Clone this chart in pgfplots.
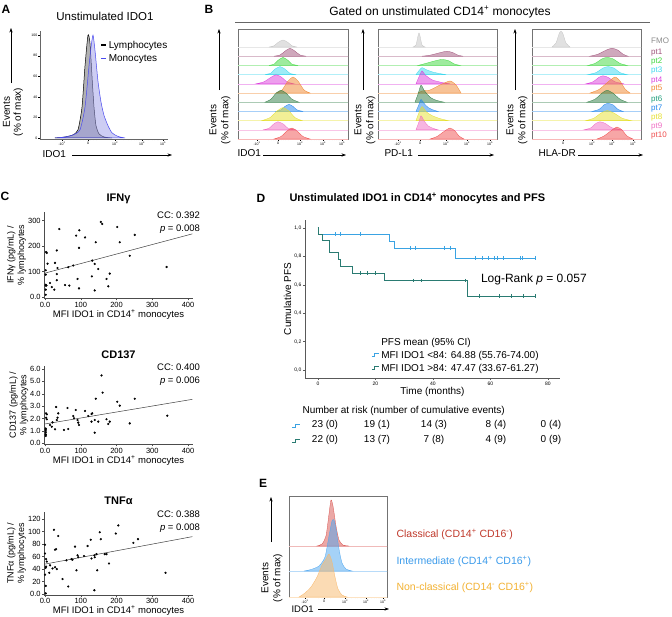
\documentclass[border=0pt]{standalone}
\usepackage{fontspec}
\setmainfont{Liberation Sans}
\usepackage{pgfplots}
\pgfplotsset{compat=1.18}
\usetikzlibrary{arrows.meta}

\definecolor{fmo}{HTML}{C4C4C4}
\definecolor{p1}{HTML}{A0527A}
\definecolor{p2}{HTML}{3FD83F}
\definecolor{p3}{HTML}{3FD8EE}
\definecolor{p4}{HTML}{DC3FDC}
\definecolor{p5}{HTML}{F0862E}
\definecolor{p6}{HTML}{2F7D45}
\definecolor{p6t}{HTML}{1E9E7A}
\definecolor{p7}{HTML}{2287EE}
\definecolor{p8}{HTML}{E6E02E}
\definecolor{p9}{HTML}{F06EC4}
\definecolor{p10}{HTML}{F04E4E}
\definecolor{monoLine}{HTML}{4A4AF0}
\definecolor{monoFill}{HTML}{9C9CE8}
\definecolor{kmblue}{HTML}{3AA3E3}
\definecolor{kmteal}{HTML}{2A7B72}
\definecolor{eRed}{HTML}{D9534F}
\definecolor{eBlue}{HTML}{4DA6F0}
\definecolor{eOra}{HTML}{F9B86A}
\definecolor{tRed}{HTML}{C0392B}
\definecolor{tBlue}{HTML}{3B9BEB}
\definecolor{tOra}{HTML}{F3B233}

\newcommand{\fs}[2]{\fontsize{#1}{#2}\selectfont}

% one histogram of a ridge: colour, baseline, "x h" rows
\newcommand{\ridge}[3]{%
  \addplot[#1!40, line width=0.4pt] coordinates {(-10,#2) (200,#2)};
  \addplot[draw=#1, fill=#1, fill opacity=0.5, line width=0.3pt, smooth, tension=0.4]
    table[row sep=\\, y expr=\thisrowno{1}+#2] {x h\\ #3} -- cycle;
}

\tikzset{arr/.style={-{Stealth[length=4.5pt, width=3.2pt]}, line width=0.5pt}}

\pgfplotsset{
  flowbox/.style={scale only axis, anchor=south west,
    axis line style={black!55, line width=0.5pt},
    ymin=0, ytick=\empty, xtick pos=bottom, tick align=outside,
    major tick length=1.6pt, minor tick length=1pt,
    every tick/.style={black, line width=0.3pt},
    xticklabel style={font=\fs{3.5}{4}, inner sep=1pt}},
  cscat/.style={scale only axis, anchor=south west,
    axis x line*=bottom, axis y line*=left,
    axis line style={black!70, line width=0.5pt},
    tick align=outside, major tick length=2pt,
    every tick/.style={black!70},
    tick label style={font=\fs{7.5}{9}, inner sep=1.5pt},
    xmin=-2, xmax=413, xtick={0,100,200,300,400},
    xticklabels={0.0,100,200,300,400},
    width=148.4pt, clip=false,
    title style={font=\bfseries\fs{11}{13}, yshift=-2pt},
    xlabel={MFI IDO1 in CD14\textsuperscript{+} monocytes},
    xlabel style={font=\fs{9.5}{11}, yshift=3pt},
    ylabel style={font=\fs{9}{10.5}, align=center, yshift=-3pt}},
}

\begin{document}
\begin{tikzpicture}
\path[use as bounding box, fill=white] (0,0) rectangle (672pt,-616pt);

% ---------------- A ----------------
\node[font=\bfseries\fs{12}{14}] at (6pt,-9pt) {A};
\node[font=\fs{11.5}{13}] at (105pt,-16pt) {Unstimulated IDO1};
\begin{axis}[scale only axis, anchor=south west, at={(40pt,-139pt)},
  width=128pt, height=108pt, xmin=0, xmax=128, ymin=-1, ymax=104,
  axis x line*=bottom, axis y line*=left,
  axis line style={black!60, line width=0.5pt},
  tick align=outside, major tick length=1.6pt, minor tick length=1pt,
  every tick/.style={black, line width=0.3pt},
  ytick={0,20,40,60,80,100}, yticklabels={0,20,40,60,80,100},
  xtick={22,48,75,102,123},
  xticklabels={-10\textsuperscript{3},0,10\textsuperscript{3},10\textsuperscript{4},10\textsuperscript{5}},
  minor xtick={40,43,46,50,53,56,83.1,87.9,91.3,93.9,96,97.8,99.4,100.8,108.3,112,114.6,116.7,118.3,119.7,121,122},
  tick label style={font=\fs{3.5}{4}, inner sep=1pt},
  legend image code/.code={\draw[#1] (0pt,0pt) -- (5pt,0pt);},
  legend style={draw=none, fill=none, font=\fs{10}{12}, inner sep=0pt,
    at={(rel axis cs:0.47,0.93)}, anchor=north west, row sep=1pt},
  legend cell align=left]
\addplot[draw=black, fill=black!55, fill opacity=0.55, line width=0.5pt, smooth, tension=0.4, forget plot]
  coordinates {(15,0)(25,1)(33,3)(38,8)(42,30)(45,70)(48,100)(50,92)(52,60)(54,30)(56,12)(59,4)(64,1)(72,0)} \closedcycle;
\addplot[draw=monoLine, fill=monoFill, fill opacity=0.5, line width=0.5pt, smooth, tension=0.4, forget plot]
  coordinates {(15,0)(25,1)(33,3)(40,8)(45,30)(49,70)(51,88)(53,100)(55,85)(58,55)(61,35)(64,22)(68,12)(72,5)(78,1.5)(85,0)} \closedcycle;
\addlegendimage{black, line width=1.4pt}
\addlegendentry{Lymphocytes}
\addlegendimage{monoLine, line width=1.4pt}
\addlegendentry{Monocytes}
\end{axis}
\draw[arr] (11pt,-83pt) -- (11pt,-28pt);
\node[rotate=90, align=center, font=\fs{10}{11}] at (13pt,-112pt) {Events\\(\% of max)};
\node[font=\fs{10}{12}, anchor=west] at (39pt,-154pt) {IDO1};
\draw[arr] (72pt,-155pt) -- (172pt,-155pt);

% ---------------- B ----------------
\node[font=\bfseries\fs{12}{14}] at (209pt,-9pt) {B};
\node[font=\fs{12}{14}] at (440pt,-12pt) {Gated on unstimulated CD14\textsuperscript{+} monocytes};
\draw[black!60, line width=0.5pt] (235pt,-22pt) -- (650pt,-22pt);

% box 1 : IDO1
\begin{axis}[flowbox, at={(238pt,-139pt)}, width=110pt, height=110pt,
  xmin=0, xmax=110, ymax=110,
  xtick={19,40,62,85,104},
  xticklabels={-10\textsuperscript{3},0,10\textsuperscript{3},10\textsuperscript{4},10\textsuperscript{5}},
  minor xtick={30,33,35,37,38.5,41.5,43,45,47,50,69,73,76,78,80,81.4,82.8,84,90.7,94,96.4,98.3,99.8,101,102.2,103.1}]
\ridge{fmo}{92}{31 0\\ 36 1.2\\ 40 4.5\\ 45 7\\ 50 4.5\\ 54 1.2\\ 59 0\\}
\ridge{p1}{82.8}{36 0\\ 42 1.2\\ 47 5\\ 52 8\\ 57 5\\ 62 1.2\\ 68 0\\}
\ridge{p2}{73.6}{31 0\\ 36 1.2\\ 40 5\\ 45 8\\ 50 5\\ 54 1.2\\ 60 0\\}
\ridge{p3}{64.4}{27 0\\ 33 1.5\\ 37 5.5\\ 42 8\\ 47 5.5\\ 52 1.2\\ 58 0\\}
\ridge{p4}{55.2}{18 0\\ 26 2\\ 33 6.5\\ 38 9\\ 43 7\\ 49 2\\ 56 0\\}
\ridge{p5}{46}{38 0\\ 44 3\\ 50 12\\ 55 16\\ 60 12\\ 66 3\\ 72 0\\}
\ridge{p6}{36.8}{27 0\\ 33 3\\ 38 9\\ 43 12\\ 48 9\\ 54 3\\ 61 0\\}
\ridge{p7}{27.6}{38 0\\ 43 1.5\\ 47 5\\ 51 7\\ 55 5\\ 59 1.5\\ 65 0\\}
\ridge{p8}{18.4}{24 0\\ 32 3\\ 39 9.5\\ 45 13\\ 51 9.5\\ 57 3\\ 64 0\\}
\ridge{p9}{9.2}{25 0\\ 31 1.5\\ 36 6\\ 40 8\\ 45 6\\ 50 1.5\\ 58 0\\}
\ridge{p10}{0}{36 0\\ 43 2.5\\ 49 8\\ 54 11\\ 59 8\\ 65 2.5\\ 72 0\\}
\end{axis}

% box 2 : PD-L1
\begin{axis}[flowbox, at={(378pt,-139pt)}, width=119pt, height=110pt,
  xmin=0, xmax=119, ymax=110,
  xtick={20,42,68,89,112},
  xticklabels={-10\textsuperscript{3},0,10\textsuperscript{3},10\textsuperscript{4},10\textsuperscript{5}},
  minor xtick={34,37,39,40.5,43.5,45,47,50,74.3,78,80.6,82.7,84.3,85.7,86.9,88,96,100,102.8,105.1,106.9,108.4,109.8,111}]
\ridge{fmo}{92}{35 0\\ 38 2\\ 40 11\\ 41 14\\ 42 11\\ 44 2\\ 47 0\\}
\ridge{p1}{82.8}{44 0\\ 52 1\\ 62 3.5\\ 69 5\\ 75 3.5\\ 80 1\\ 85 0\\}
\ridge{p2}{73.6}{40 0\\ 46 1.5\\ 55 4\\ 64 6\\ 71 4.5\\ 76 1.5\\ 82 0\\}
\ridge{p3}{64.4}{38 0\\ 41 4\\ 44 7\\ 48 5\\ 55 2.5\\ 62 1\\ 68 0\\}
\ridge{p4}{55.2}{38 0\\ 41 7\\ 44 13\\ 47 9\\ 54 4\\ 63 1.5\\ 72 0\\}
\ridge{p5}{46}{40 0\\ 44 2\\ 52 3\\ 62 8\\ 72 12\\ 78 8\\ 83 0\\}
\ridge{p6}{36.8}{37 0\\ 40 8\\ 43 17\\ 46 12\\ 52 5\\ 58 2\\ 66 0\\}
\ridge{p7}{27.6}{38 0\\ 41 7\\ 43 12\\ 46 8\\ 50 4\\ 55 1.5\\ 60 0\\}
\ridge{p8}{18.4}{38 0\\ 41 8\\ 44 14\\ 48 9\\ 54 5\\ 62 2\\ 70 0\\}
\ridge{p9}{9.2}{38 0\\ 41 8\\ 43 14\\ 46 9\\ 50 4\\ 55 1.5\\ 60 0\\}
\ridge{p10}{0}{52 0\\ 59 2.5\\ 66 7.5\\ 72 11\\ 77 8\\ 81 3\\ 86 0\\}
\end{axis}

% box 3 : HLA-DR
\begin{axis}[flowbox, at={(532pt,-139pt)}, width=109pt, height=110pt,
  xmin=0, xmax=109, ymax=110,
  xtick={31,60,80,101},
  xticklabels={0,10\textsuperscript{3},10\textsuperscript{4},10\textsuperscript{5}},
  minor xtick={24,27,29,33,35,38,66,69.5,72,74,75.6,76.9,78.1,79.1,86.3,90,92.6,94.7,96.4,97.7,98.9,100}]
\ridge{fmo}{92}{20 0\\ 24 4\\ 27 13\\ 29 16\\ 31 13\\ 34 4\\ 38 0\\}
\ridge{p1}{82.8}{58 0\\ 66 2\\ 74 6\\ 80 8\\ 86 6\\ 91 2\\ 96 0\\}
\ridge{p2}{73.6}{56 0\\ 63 2\\ 70 6.5\\ 75 8\\ 81 6.5\\ 88 2\\ 95 0\\}
\ridge{p3}{64.4}{56 0\\ 64 2\\ 71 6.5\\ 76 8\\ 82 6.5\\ 88 2\\ 95 0\\}
\ridge{p4}{55.2}{54 0\\ 61 2\\ 67 6.5\\ 71 8\\ 76 6.5\\ 83 2\\ 92 0\\}
\ridge{p5}{46}{58 0\\ 67 3.5\\ 76 11\\ 83 16\\ 88 12\\ 93 4\\ 98 0\\}
\ridge{p6}{36.8}{55 0\\ 63 3\\ 70 9\\ 75 12\\ 81 9\\ 88 3\\ 95 0\\}
\ridge{p7}{27.6}{60 0\\ 67 2\\ 72 6.5\\ 76 8\\ 81 6.5\\ 86 2\\ 91 0\\}
\ridge{p8}{18.4}{54 0\\ 62 2.5\\ 69 7.5\\ 75 10\\ 82 7.5\\ 90 2.5\\ 99 0\\}
\ridge{p9}{9.2}{52 0\\ 59 2\\ 64 6.5\\ 68 8\\ 73 6.5\\ 80 2\\ 90 0\\}
\ridge{p10}{0}{65 0\\ 72 3\\ 80 9\\ 85 12\\ 90 9\\ 95 3\\ 101 0\\}
\end{axis}

\foreach \ax/\tx in {219/220, 363/365, 515/517}{
  \draw[arr] (\ax pt,-90pt) -- (\ax pt,-29pt);
  \node[rotate=90, align=center, font=\fs{10}{12}] at (\tx pt,-120pt) {Events\\(\% of max)};
}
\node[font=\fs{10}{12}, anchor=west] at (234pt,-153pt) {IDO1};
\draw[arr] (263pt,-155pt) -- (346pt,-155pt);
\node[font=\fs{10}{12}, anchor=west] at (381pt,-153pt) {PD-L1};
\draw[arr] (418pt,-155pt) -- (494pt,-155pt);
\node[font=\fs{10}{12}, anchor=west] at (535pt,-153pt) {HLA-DR};
\draw[arr] (578pt,-155pt) -- (643pt,-155pt);
\foreach \lab/\col/\yy in {FMO/black!45/41, pt1/p1/53, pt2/p2/62, pt3/p3/71, pt4/p4/81, pt5/p5/89,
  pt6/p6t/100, pt7/p7/109, pt8/p8/118, pt9/p9/127, pt10/p10/136}{
  \node[anchor=west, text=\col, font=\fs{8}{9}, inner sep=0pt] at (651pt,-\yy pt) {\lab};
}

% ---------------- C ----------------
\node[font=\bfseries\fs{12}{14}] at (5pt,-196pt) {C};
\begin{axis}[cscat, at={(44.3pt,-298.3pt)}, height=86.6pt,
  ymin=-5, ymax=335, ytick={0,100,200,300}, yticklabels={0.0,100,200,300},
  title={IFNγ}, ylabel={IFNγ (pg/mL) /\\\% lymphocytes}]
\addplot[black!75, line width=0.5pt] coordinates {(0,94) (412,248)};
\addplot[only marks, mark=*, mark size=0.9pt, black] coordinates {
(40,267)(87,241)(96,262)(112,234)(95,193)(142,215)(156,295)(160,287)(202,275)(209,215)
(251,244)(237,162)(340,118)(33,183)(3,177)(5,173)(7,131)(28,134)(35,114)(2,105)
(2,88)(33,90)(65,117)(79,124)(132,143)(139,130)(149,110)(131,81)(181,92)(172,71)
(177,42)(91,71)(95,34)(139,26)(33,66)(56,47)(68,45)(14,55)(19,39)(26,29)
(2,48)(2,45)(2,29)(2,9)(4,45)};
\node[anchor=east, font=\fs{9.5}{11}, inner sep=0pt] at (rel axis cs:1.05,0.962) {CC: 0.392};
\node[anchor=east, font=\fs{9.5}{11}, inner sep=0pt] at (rel axis cs:1.05,0.80) {\textit{p} = 0.008};
\end{axis}

\begin{axis}[cscat, at={(44.3pt,-444.3pt)}, height=78.3pt,
  ymin=-0.08, ymax=6.24, ytick={0,1,2,3,4,5,6}, yticklabels={0.0,1.0,2.0,3.0,4.0,5.0,6.0},
  title={CD137}, ylabel={CD137 (pg/mL) /\\\% lymphocytes}]
\addplot[black!75, line width=0.5pt] coordinates {(0,1.56) (412,3.55)};
\addplot[only marks, mark=*, mark size=0.9pt, black] coordinates {
(158,5.48)(161,4.09)(142,3.60)(251,3.60)(202,3.36)(209,3.04)(31,2.93)(63,2.85)(86,2.69)(37,2.42)
(112,2.61)(132,2.42)(121,2.20)(3,2.42)(5,2.34)(3,2.07)(5,1.94)(2,1.20)(2,1.10)(2,1.00)
(2,0.85)(2,0.70)(2,0.60)(21,1.69)(14,1.48)(19,1.34)(28,1.13)(33,1.88)(35,2.07)(65,1.16)
(53,1.08)(79,2.20)(81,2.02)(91,1.88)(93,1.67)(95,1.48)(130,1.75)(139,1.88)(149,1.75)(139,0.86)
(172,1.94)(177,1.56)(181,1.75)(237,1.61)(342,2.23)(130,2.37)};
\node[anchor=east, font=\fs{9.5}{11}, inner sep=0pt] at (rel axis cs:1.05,0.987) {CC: 0.400};
\node[anchor=east, font=\fs{9.5}{11}, inner sep=0pt] at (rel axis cs:1.05,0.81) {\textit{p} = 0.006};
\end{axis}

\begin{axis}[cscat, at={(44.3pt,-595pt)}, height=83.3pt,
  ymin=-1.6, ymax=132, ytick={0,20,40,60,80,100,120}, yticklabels={0.0,20,40,60,80,100,120},
  title={TNFα}, ylabel={TNFα (pg/mL) /\\\% lymphocytes}]
\addplot[black!75, line width=0.5pt] coordinates {(0,48) (412,92)};
\addplot[only marks, mark=*, mark size=0.9pt, black] coordinates {
(25,103)(37,93)(205,110)(198,97)(153,99)(156,88)(128,87)(247,82)(260,88)(84,76)
(119,77)(31,72)(28,71)(0,79)(0,65)(3,56)(5,52)(60,54)(74,56)(77,55)
(91,62)(93,59)(109,61)(138,62)(144,64)(139,59)(167,64)(172,64)(130,57)(179,49)
(2,42)(3,44)(14,46)(21,41)(28,43)(33,40)(12,34)(0,31)(88,38)(146,38)
(49,24)(65,12)(2,13)(138,6)(337,34)(2,1)};
\node[anchor=east, font=\fs{9.5}{11}, inner sep=0pt] at (rel axis cs:1.05,0.97) {CC: 0.388};
\node[anchor=east, font=\fs{9.5}{11}, inner sep=0pt] at (rel axis cs:1.05,0.80) {\textit{p} = 0.008};
\end{axis}

% ---------------- D ----------------
\node[font=\bfseries\fs{12}{14}] at (261pt,-198pt) {D};
\node[font=\bfseries\fs{11}{13}, anchor=west] at (286pt,-198pt) {Unstimulated IDO1 in CD14\textsuperscript{+} monocytes and PFS};
\begin{axis}[scale only axis, anchor=south west, at={(305pt,-378pt)},
  width=255pt, height=158pt, xmin=-4.5, xmax=84.2, ymin=-0.056, ymax=1.056,
  axis x line*=bottom, axis y line*=left, clip=false,
  axis line style={black!65, line width=0.7pt},
  tick align=outside, major tick length=2pt, every tick/.style={black!65},
  xtick={0,20,40,60,80}, xticklabels={0,20,40,60,80},
  ytick={0,0.2,0.4,0.6,0.8,1}, yticklabels={{0,0},{0,2},{0,4},{0,6},{0,8},{1,0}},
  tick label style={font=\fs{5}{6}, inner sep=1.5pt},
  xlabel={Time (months)}, ylabel={Cumulative PFS},
  xlabel style={font=\fs{10}{12}, yshift=3pt},
  ylabel style={font=\fs{10}{12}, yshift=-2pt},
  legend image code/.code={\draw[#1] (0pt,-1.5pt) -- (3pt,-1.5pt) -- (3pt,1.5pt) -- (7pt,1.5pt);},
  legend style={draw=none, fill=none, font=\fs{10}{11.5}, inner sep=0pt,
    at={(rel axis cs:0.259,0.265)}, anchor=north west, row sep=0pt},
  legend cell align=left]
\addplot[const plot, kmblue, line width=1pt, forget plot] coordinates
  {(0,1)(0.3,0.957)(25,0.908)(26.8,0.857)(48,0.787)(75.5,0.787)};
\addplot[const plot, kmteal, line width=1pt, forget plot] coordinates
  {(0,1)(0.2,0.955)(1.6,0.909)(3.9,0.826)(7,0.775)(8,0.727)(11.9,0.681)(23,0.629)(52,0.521)(75.5,0.521)};
\addplot[only marks, mark=|, mark size=1.8pt, kmblue, line width=0.6pt, forget plot] coordinates
  {(5.9,0.957)(7.7,0.957)(14.8,0.957)(32,0.857)(34,0.857)(43.8,0.857)(46.1,0.857)
   (54.6,0.787)(57.3,0.787)(59.2,0.787)(61.2,0.787)(62.4,0.787)(64.5,0.787)(70.3,0.787)(71.2,0.787)(75.5,0.787)};
\addplot[only marks, mark=|, mark size=1.8pt, kmteal, line width=0.6pt, forget plot] coordinates
  {(14.7,0.681)(17,0.681)(20,0.681)(33,0.629)(35.9,0.629)(51.2,0.629)
   (56,0.521)(63,0.521)(67.1,0.521)(71.6,0.521)(75.5,0.521)};
\addlegendimage{empty legend}
\addlegendentry{PFS mean (95\% CI)}
\addlegendimage{kmblue, line width=1pt}
\addlegendentry{MFI IDO1 <84: 64.88 (55.76-74.00)}
\addlegendimage{kmteal, line width=1pt}
\addlegendentry{MFI IDO1 >84: 47.47 (33.67-61.27)}
\node[anchor=west, font=\fs{12}{14}] at (axis cs:55.5,0.64) {Log-Rank \textit{p} = 0.057};
\end{axis}
\node[anchor=west, font=\fs{10}{12}] at (299pt,-411pt) {Number at risk (number of cumulative events)};
\draw[kmblue, line width=1pt] (292pt,-427pt) -- (295pt,-427pt) -- (295pt,-424pt) -- (300pt,-424pt);
\draw[kmteal, line width=1pt] (292pt,-442pt) -- (295pt,-442pt) -- (295pt,-439pt) -- (300pt,-439pt);
\foreach \xx/\a/\b in {325/23 (0)/22 (0), 377/19 (1)/13 (7), 434/14 (3)/7 (8), 496/8 (4)/4 (9), 551/0 (4)/0 (9)}{
  \node[font=\fs{10}{12}] at (\xx pt,-425pt) {\a};
  \node[font=\fs{10}{12}] at (\xx pt,-440pt) {\b};
}

% ---------------- E ----------------
\node[font=\bfseries\fs{12}{14}] at (263pt,-483pt) {E};
\begin{axis}[flowbox, at={(289pt,-597pt)}, width=98pt, height=101pt,
  xmin=0, xmax=98, ymax=101,
  xtick={16,35,56,77,94},
  xticklabels={-10\textsuperscript{3},0,10\textsuperscript{3},10\textsuperscript{4},10\textsuperscript{5}},
  minor xtick={29,32,33.5,36.5,38,41,62.3,66,68.6,70.7,72.3,73.7,75,76,82.1,85.1,87.2,88.9,90.2,91.4,92.4,93.2}]
\ridge{eRed}{51}{28 0\\ 33 2\\ 37 10\\ 40 32\\ 42 46\\ 44 40\\ 47 20\\ 50 6\\ 54 1\\ 60 0\\}
\ridge{eBlue}{26}{15 0\\ 22 1.5\\ 30 5\\ 36 14\\ 40 35\\ 43 50\\ 45 51\\ 47 42\\ 50 22\\ 53 8\\ 57 2\\ 63 0\\}
\ridge{eOra}{0}{10 0\\ 16 4\\ 22 10\\ 28 20\\ 33 32\\ 37 38\\ 40 43\\ 43 35\\ 46 20\\ 49 8\\ 53 2\\ 58 0\\}
\end{axis}
\draw[arr] (271pt,-542pt) -- (271pt,-497pt);
\node[rotate=90, align=center, font=\fs{10}{12}] at (272pt,-578pt) {Events\\(\% of max)};
\node[font=\fs{9.5}{11}, anchor=west] at (288pt,-609pt) {IDO1};
\draw[arr] (318pt,-609pt) -- (389pt,-609pt);
\node[anchor=west, text=tRed, font=\fs{10.5}{12}] at (393pt,-534pt) {Classical (CD14\textsuperscript{+} CD16\textsuperscript{-})};
\node[anchor=west, text=tBlue, font=\fs{10.5}{12}] at (393pt,-561pt) {Intermediate (CD14\textsuperscript{+} CD16\textsuperscript{+})};
\node[anchor=west, text=tOra, font=\fs{10.5}{12}] at (393pt,-587pt) {Non-classical (CD14\textsuperscript{-} CD16\textsuperscript{+})};
\end{tikzpicture}
\end{document}
